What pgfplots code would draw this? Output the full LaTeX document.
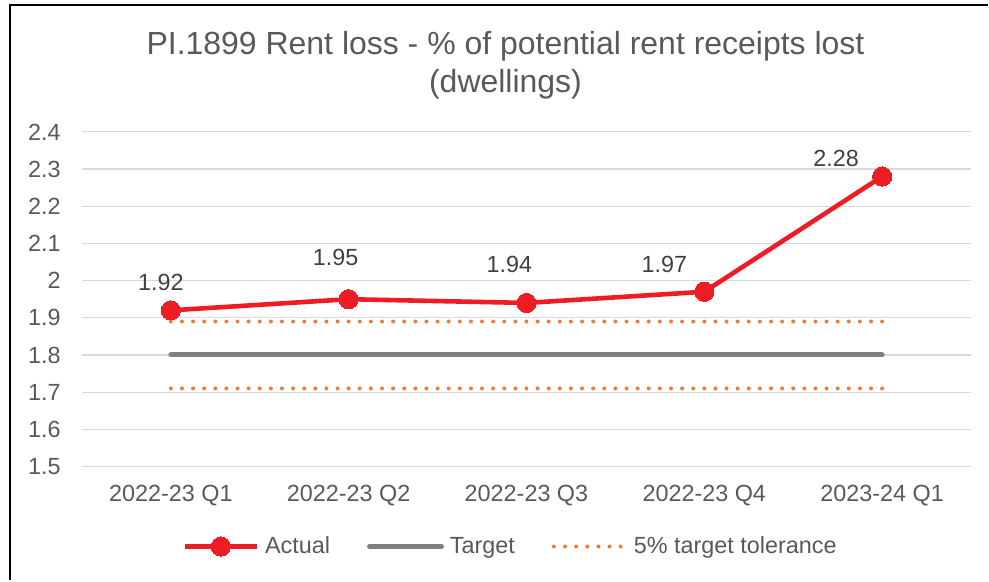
\documentclass[border=0pt]{standalone}
\usepackage{pgfplots}
\pgfplotsset{compat=1.18}
\usepackage{pgfplotstable}
\usepackage{fontspec}
\setmainfont{Liberation Sans}
\definecolor{actred}{HTML}{EE1C25}
\definecolor{tgtgray}{HTML}{7F7F7F}
\definecolor{tolorange}{HTML}{ED7D31}
\definecolor{gridgray}{HTML}{D9D9D9}
\definecolor{txtgray}{HTML}{595959}
\definecolor{lblgray}{HTML}{404040}

\pgfplotstableread{
x y
0 1.92
1 1.95
2 1.94
3 1.97
4 2.28
}\actual

\pgfplotstableread{
x y
0 1.8
4 1.8
}\target

\pgfplotstableread{
x y
0 1.89
4 1.89
}\tolhigh

\pgfplotstableread{
x y
0 1.71
4 1.71
}\tollow

\pgfplotsset{
  lbl/.style 2 args={draw=none, no marks, forget plot, nodes near coords,
    every node near coord/.append style={anchor=south, inner sep=0pt,
      xshift=#1, yshift=#2, text=lblgray,
      font=\fontsize{11.7}{14}\selectfont}},
}

\begin{document}
\begin{tikzpicture}
\path (0,0) rectangle (494.5pt,290.5pt);
\draw[line width=1pt, black] (5pt,0pt) -- (5pt,288pt) -- (494.5pt,288pt);
\node[anchor=base, text=txtgray, font=\fontsize{16}{19}\selectfont, inner sep=0pt] at (253pt,263pt) {PI.1899 Rent loss - \% of potential rent receipts lost};
\node[anchor=base, text=txtgray, font=\fontsize{16}{19}\selectfont, inner sep=0pt] at (253pt,244pt) {(dwellings)};
\begin{axis}[
  at={(41pt,57pt)}, anchor=south west,
  scale only axis, width=445pt, height=167.5pt,
  xmin=-0.5, xmax=4.5, ymin=1.5, ymax=2.4,
  xtick={0,1,2,3,4},
  xticklabels={2022-23 Q1,2022-23 Q2,2022-23 Q3,2022-23 Q4,2023-24 Q1},
  ytick={1.5,1.6,1.7,1.8,1.9,2.0,2.1,2.2,2.3,2.4},
  axis x line*=bottom, axis y line*=left,
  axis line style={draw=none},
  major tick length=0pt,
  ymajorgrids, grid style={gridgray, line width=0.6pt},
  tick label style={font=\fontsize{11.7}{14}\selectfont, text=txtgray},
  xticklabel style={anchor=north, inner sep=0pt, yshift=-9pt},
  yticklabel style={anchor=east, inner sep=0pt, xshift=-10.5pt},
  /pgf/number format/fixed,
  /pgf/number format/assume math mode=true,
  clip=false,
  legend columns=3,
  legend style={at={(0.481,-0.239)}, anchor=center, draw=none, fill=none,
    inner sep=0pt, font=\fontsize{11.7}{14}\selectfont, text=txtgray,
    column sep=3pt,
    /tikz/every even column/.append style={column sep=18.5pt},
    nodes={inner sep=0pt}},
  legend image code/.code={\draw[mark repeat=2,mark phase=2,#1] plot coordinates {(0pt,0pt)(18pt,0pt)(36pt,0pt)};},
]
\addplot[actred, line width=2.3pt, line join=round, mark=*, mark size=4.8pt,
  mark options={solid, fill=actred, draw=actred, line width=0pt}]
  table[x=x, y=y] {\actual};
\addlegendentry{Actual}
\addplot[tgtgray, line width=2.5pt, line cap=round, no marks] table[x=x, y=y] {\target};
\addlegendentry{Target}
\addplot[tolorange, line width=2pt, line cap=round, no marks, dash pattern=on 0pt off 5.5625pt] table[x=x, y=y] {\tolhigh};
\addlegendentry{5\% target tolerance}
\addplot[tolorange, line width=2pt, line cap=round, no marks, dash pattern=on 0pt off 5.5625pt, forget plot] table[x=x, y=y] {\tollow};
% data labels
\addplot[lbl={-5pt}{9.5pt}] coordinates {(0,1.92)};
\addplot[lbl={-6.5pt}{16.5pt}] coordinates {(1,1.95)};
\addplot[lbl={-8.5pt}{15pt}] coordinates {(2,1.94)};
\addplot[lbl={-20pt}{9.5pt}] coordinates {(3,1.97)};
\addplot[lbl={-23pt}{4.5pt}] coordinates {(4,2.28)};
\end{axis}
\end{tikzpicture}
\end{document}
